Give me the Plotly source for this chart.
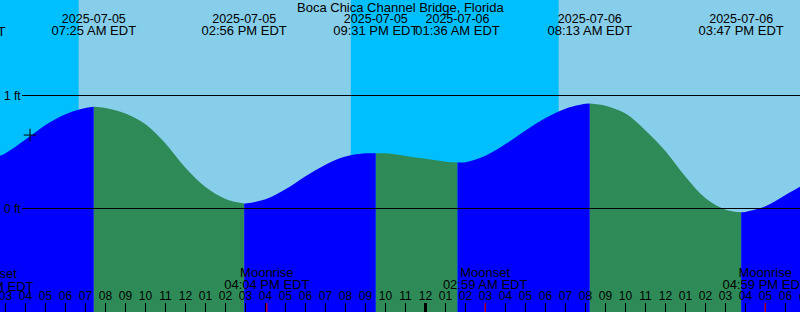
import pandas as pd
import plotly.graph_objects as go

# ---------------- data ----------------
title = "Boca Chica Channel Bridge, Florida"

hour_times = pd.date_range("2025-07-05 02:00", "2025-07-06 19:00", freq="h")
hour_heights = [0.42, 0.49, 0.61, 0.74, 0.835, 0.89, 0.89, 0.84, 0.745, 0.575,
                0.36, 0.19, 0.085, 0.044, 0.082, 0.17, 0.286, 0.388, 0.46, 0.488,
                0.488, 0.465, 0.44, 0.414, 0.41, 0.467, 0.57, 0.69, 0.80, 0.883,
                0.927, 0.91, 0.84, 0.69, 0.507, 0.28, 0.09, -0.01, -0.03, 0.02,
                0.12, 0.22]

ext_times = ["2025-07-05 00:55", "2025-07-05 07:25", "2025-07-05 14:56",
             "2025-07-05 21:31", "2025-07-06 01:36", "2025-07-06 08:13",
             "2025-07-06 15:47"]
ext_heights = [0.40, 0.90, 0.044, 0.489, 0.407, 0.93, -0.033]

sun_times = ["2025-07-05 06:40", "2025-07-05 20:16", "2025-07-06 06:40"]
sun_events = ["Sunrise", "Sunset", "Sunrise"]

moon_times = ["2025-07-05 02:19", "2025-07-05 16:04", "2025-07-06 02:59", "2025-07-06 16:59"]
moon_events = ["Moonset", "Moonrise", "Moonset", "Moonrise"]

now_time = "2025-07-05 04:13:30"
now_height = 0.65

ft_levels = [0, 1]
ft_labels = ["0 ft", "1 ft"]

# ---------------- style ----------------
NIGHT = "#00BFFF"
DAY = "#87CEEB"
FLOOD = "#0000FF"
EBB = "#2E8B57"
FAM = "Liberation Sans"
FONT12 = dict(family=FAM, size=12, color="black")
FONT_DATE = dict(family=FAM, size=12.5, color="black")
FONT13 = dict(family=FAM, size=13, color="black")
W, H = 800, 312
X0, X1 = pd.Timestamp("2025-07-05 02:43:30"), pd.Timestamp("2025-07-06 18:43:30")
PX_PER_FT = 113.0
Y_TOP = 208.5 / PX_PER_FT
Y_BOT = Y_TOP - H / PX_PER_FT


def py(p):
    """pixel row -> data value on the y axis"""
    return Y_TOP - p / PX_PER_FT


def in_range(t):
    return X0 <= t <= X1


def frac(t):
    return (t - X0) / (X1 - X0)


fig = go.Figure()

# ---- tide fill segments ----
series = pd.concat([
    pd.DataFrame({"t": hour_times, "h": hour_heights, "ext": False}),
    pd.DataFrame({"t": pd.to_datetime(ext_times), "h": ext_heights, "ext": True}),
]).sort_values("t").reset_index(drop=True)

ext_idx = list(series.index[series["ext"]])
bounds = ext_idx + ([len(series) - 1] if ext_idx[-1] != len(series) - 1 else [])
for a, b in zip(bounds[:-1], bounds[1:]):
    seg = series.iloc[a:b + 1]
    rising = seg["h"].iloc[-1] > seg["h"].iloc[0]
    col = FLOOD if rising else EBB
    fig.add_trace(go.Scatter(x=[seg["t"].iloc[0], seg["t"].iloc[-1]], y=[Y_BOT - 1, Y_BOT - 1],
                             mode="lines", line=dict(width=0, color=col), hoverinfo="skip"))
    fig.add_trace(go.Scatter(x=seg["t"], y=seg["h"], mode="lines", fill="tonexty",
                             fillcolor=col, line=dict(width=0, color=col, shape="spline"),
                             hoverinfo="skip"))

# ---- day / night background ----
shapes = []
sun_ts = pd.to_datetime(sun_times)
edges = [pd.Timestamp("2025-07-04 12:00")] + list(sun_ts) + [pd.Timestamp("2025-07-07 12:00")]
states = ["night"] + ["day" if e == "Sunrise" else "night" for e in sun_events]
for s, e, st in zip(edges[:-1], edges[1:], states):
    shapes.append(dict(type="rect", xref="x", yref="paper", x0=s, x1=e, y0=0, y1=1,
                       fillcolor=DAY if st == "day" else NIGHT, line=dict(width=0), layer="below"))

# ---- ft reference lines ----
for lv in ft_levels:
    shapes.append(dict(type="line", xref="paper", yref="y", x0=22 / W, x1=1, y0=lv, y1=lv,
                       line=dict(color="black", width=1), layer="above"))

annotations = [dict(xref="paper", yref="y", x=2 / W, y=lv, text=lb, showarrow=False,
                    xanchor="left", yanchor="middle", font=FONT12)
               for lv, lb in zip(ft_levels, ft_labels)]
annotations.append(dict(xref="paper", yref="paper", x=0.5, y=1 - 7.5 / H, text=title,
                        showarrow=False, xanchor="center", yanchor="middle", font=FONT13))


def add_labels(times, texts, prow, font):
    """in-range labels as a text trace; labels just off the edges as paper annotations"""
    xin = [t for t in times if in_range(t)]
    tin = [s for t, s in zip(times, texts) if in_range(t)]
    fig.add_trace(go.Scatter(x=xin, y=[py(prow)] * len(xin), text=tin, mode="text",
                             textposition="middle center", textfont=font, cliponaxis=False,
                             hoverinfo="skip"))
    for t, s in zip(times, texts):
        if not in_range(t):
            annotations.append(dict(xref="paper", yref="paper", x=frac(t), y=1 - prow / H,
                                    text=s, showarrow=False, xanchor="center",
                                    yanchor="middle", font=font, borderpad=0))


# ---- hour ticks ----
tick_times = list(hour_times)
tx, ty = [], []
for t in tick_times:
    tx += [t, t, None]
    ty += [py(303), py(313), None]
fig.add_trace(go.Scatter(x=tx, y=ty, mode="lines", line=dict(color="black", width=1), hoverinfo="skip"))
mid = [t for t in tick_times if t.hour == 0]
mx, my = [], []
for t in mid:
    mx += [t, t, None]
    my += [py(303), py(313), None]
fig.add_trace(go.Scatter(x=mx, y=my, mode="lines", line=dict(color="black", width=3), hoverinfo="skip"))
moon_ts = list(pd.to_datetime(moon_times))
rx, ry = [], []
for t in moon_ts:
    rx += [t, t, None]
    ry += [py(303), py(313), None]
fig.add_trace(go.Scatter(x=rx, y=ry, mode="lines", line=dict(color="red", width=1), hoverinfo="skip"))

add_labels(tick_times, [t.strftime("%I") for t in tick_times], 297, FONT12)

# ---- tide extreme labels ----
ext_ts = list(pd.to_datetime(ext_times))
add_labels(ext_ts, [t.strftime("%Y-%m-%d") for t in ext_ts], 19.5, FONT_DATE)
add_labels(ext_ts, [t.strftime("%I:%M %p EDT") for t in ext_ts], 31.5, FONT13)

# ---- moon labels ----
add_labels(moon_ts, moon_events, 273.5, FONT13)
add_labels(moon_ts, [t.strftime("%I:%M %p EDT") for t in moon_ts], 286, FONT13)

# ---- now marker ----
fig.add_trace(go.Scatter(x=[pd.Timestamp(now_time)], y=[now_height], mode="markers",
                         marker=dict(symbol="cross-thin", size=9, line=dict(width=1, color="black")),
                         hoverinfo="skip"))

fig.update_layout(
    width=W, height=H, margin=dict(l=0, r=0, t=0, b=0),
    paper_bgcolor=DAY, plot_bgcolor=DAY, showlegend=False,
    xaxis=dict(range=[X0, X1], visible=False, fixedrange=True),
    yaxis=dict(range=[Y_BOT, Y_TOP], visible=False, fixedrange=True),
    shapes=shapes, annotations=annotations, font=FONT12,
)
fig.write_html("out.html")
